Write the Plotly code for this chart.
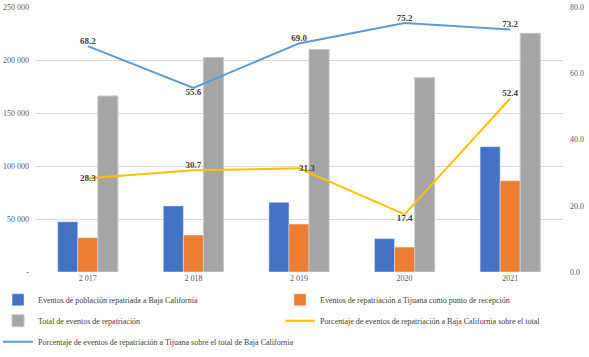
import plotly.graph_objects as go

years = ["2 017", "2 018", "2 019", "2020", "2021"]
bc_events = [47400, 62300, 65700, 31500, 118200]
tijuana_events = [32400, 34900, 45200, 23500, 86100]
total_events = [166000, 202500, 210000, 183300, 225200]
pct_bc = [28.3, 30.7, 31.3, 17.4, 52.4]
pct_tij = [68.2, 55.6, 69.0, 75.2, 73.2]

left_ticks = [0, 50000, 100000, 150000, 200000, 250000]
left_labels = ["-", "50 000", "100 000", "150 000", "200 000", "250 000"]
right_ticks = [0, 20, 40, 60, 80]
right_labels = ["0.0", "20.0", "40.0", "60.0", "80.0"]

font_family = "Liberation Serif"
tick_color = "#595959"

fig = go.Figure()
fig.add_trace(go.Bar(x=years, y=bc_events, name="Eventos de población repatriada a Baja California",
                     marker_color="#4472C4", legend="legend", legendgroup="a"))
fig.add_trace(go.Bar(x=years, y=tijuana_events, name="Eventos de repatriación a Tijuana como punto de recepción",
                     marker_color="#ED7D31", legend="legend2", legendgroup="b"))
fig.add_trace(go.Bar(x=years, y=total_events, name="Total de eventos de repatriación",
                     marker_color="#A5A5A5", marker_line=dict(color="#C8C8C8", width=1),
                     legend="legend", legendgroup="c"))
fig.add_trace(go.Scatter(x=years, y=pct_bc, name="Porcentaje de eventos de repatriación a Baja California sobre el total",
                         mode="lines+text", yaxis="y2", line=dict(color="#FFC000", width=2),
                         legend="legend2", legendgroup="d",
                         text=[f"{v:.1f}" for v in pct_bc],
                         textposition=["middle center", "top center", "middle right", "bottom center", "top center"],
                         textfont=dict(family=font_family, size=9, color="#404040", weight="bold")))
fig.add_trace(go.Scatter(x=years, y=pct_tij, name="Porcentaje de eventos de repatriación a Tijuana sobre el total de Baja California",
                         mode="lines+text", yaxis="y2", line=dict(color="#5B9BD5", width=2),
                         legend="legend", legendgroup="e",
                         text=[f"{v:.1f}" for v in pct_tij],
                         textposition=["top center", "bottom center", "top center", "top center", "top center"],
                         textfont=dict(family=font_family, size=9, color="#404040", weight="bold")))

legend_common = dict(orientation="v", xanchor="left", yanchor="top",
                     itemwidth=30, font=dict(size=8, color="#404040"), tracegroupgap=2,
                     traceorder="grouped", bgcolor="rgba(0,0,0,0)")

fig.update_layout(
    width=589, height=357,
    margin=dict(l=35, r=26, t=7, b=85, autoexpand=False),
    paper_bgcolor="white", plot_bgcolor="white",
    font=dict(family=font_family, size=8, color=tick_color),
    barmode="group", bargap=0.43, bargroupgap=0,
    xaxis=dict(type="category", showgrid=False, showline=False, ticks="", color=tick_color,
               tickfont=dict(size=8, color=tick_color)),
    yaxis=dict(range=[0, 250000], tickvals=left_ticks, ticktext=left_labels, color=tick_color,
               showgrid=True, gridcolor="#D9D9D9", gridwidth=1, zeroline=False, ticks="",
               tickfont=dict(size=8, color=tick_color), ticklabelstandoff=5, automargin=False),
    yaxis2=dict(range=[0, 80], overlaying="y", side="right", tickvals=right_ticks, ticktext=right_labels,
                showgrid=False, zeroline=False, color=tick_color, ticks="",
                tickfont=dict(size=8, color=tick_color), ticklabelstandoff=6, automargin=False),
    showlegend=True,
    legend=dict(x=-0.07, y=-0.05, **legend_common),
    legend2=dict(x=0.464, y=-0.05, **legend_common),
)

fig.write_html("out.html", config={"displayModeBar": False},
               post_script="document.body.style.margin='0';")
